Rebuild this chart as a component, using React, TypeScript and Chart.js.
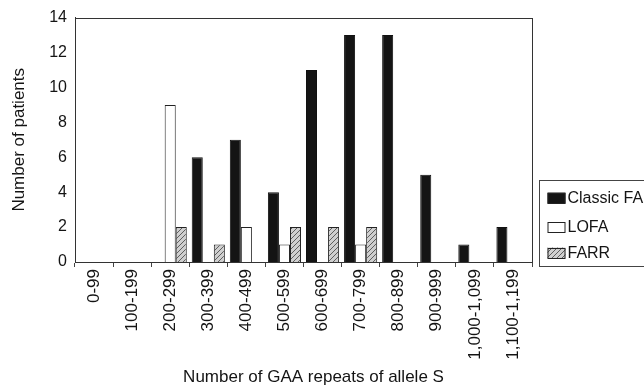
import React, { useEffect, useRef } from "react";
import { Chart, registerables } from "chart.js";

Chart.register(...registerables);

const categories = [
  "0-99", "100-199", "200-299", "300-399", "400-499", "500-599",
  "600-699", "700-799", "800-899", "900-999", "1,000-1,099", "1,100-1,199",
];
const classicFA = [0, 0, 0, 6, 7, 4, 11, 13, 13, 5, 1, 2];
const lofa = [0, 0, 9, 0, 2, 1, 0, 1, 0, 0, 0, 0];
const farr = [0, 0, 2, 1, 0, 2, 2, 2, 0, 0, 0, 0];
const seriesLabels = ["Classic FA", "LOFA", "FARR"];
const yTicks = [0, 2, 4, 6, 8, 10, 12, 14];
const xTitle = "Number of GAA repeats of allele S";
const yTitle = "Number of patients";

const FONT = "'Liberation Sans', Arial, Helvetica, sans-serif";
const TEXT = "#141414";

function makeHatch(): CanvasPattern | string {
  const c = document.createElement("canvas");
  c.width = 5;
  c.height = 5;
  const g = c.getContext("2d");
  if (!g) return "#aaa";
  g.fillStyle = "#cfcfcf";
  g.fillRect(0, 0, 5, 5);
  g.strokeStyle = "#5e5e5e";
  g.lineWidth = 1;
  g.beginPath();
  g.moveTo(-1, 6);
  g.lineTo(6, -1);
  g.moveTo(-1, 1);
  g.lineTo(1, -1);
  g.moveTo(4, 6);
  g.lineTo(6, 4);
  g.stroke();
  const p = g.createPattern(c, "repeat");
  return p || "#aaa";
}

export default function App() {
  const ref = useRef<HTMLCanvasElement | null>(null);

  useEffect(() => {
    if (!ref.current) return;
    const hatch = makeHatch();
    const fills: any[] = ["#141414", "#ffffff", hatch];

    const framePlugin = {
      id: "frameAndLegend",
      afterDraw(chart: any) {
        const { ctx, chartArea } = chart;
        ctx.save();
        ctx.strokeStyle = "#333";
        ctx.lineWidth = 1;
        ctx.strokeRect(
          Math.round(chartArea.left) + 0.5,
          Math.round(chartArea.top) + 0.5,
          Math.round(chartArea.right - chartArea.left),
          Math.round(chartArea.bottom - chartArea.top)
        );
        // x-axis title
        ctx.font = `17px ${FONT}`;
        ctx.fillStyle = TEXT;
        ctx.textAlign = "center";
        ctx.textBaseline = "middle";
        ctx.fillText(xTitle, (chartArea.left + chartArea.right) / 2 + 10, 377);
        // legend box
        const bx = Math.round(chartArea.right) + 7.5;
        const by = 180.5;
        ctx.strokeStyle = "#444";
        ctx.strokeRect(bx, by, 140, 86);
        ctx.font = `16px ${FONT}`;
        ctx.textBaseline = "middle";
        ctx.textAlign = "left";
        const ys = [198, 227, 253];
        chart.data.datasets.forEach((ds: any, i: number) => {
          const sx = bx + 8;
          const sy = ys[i] - 5.5;
          ctx.fillStyle = fills[i];
          ctx.fillRect(sx, sy, 18, 11);
          ctx.strokeStyle = "#222";
          ctx.strokeRect(sx + 0.5, Math.round(sy) + 0.5, 17, 10);
          ctx.fillStyle = TEXT;
          ctx.fillText(ds.label, sx + 20, ys[i] + 1);
        });
        ctx.restore();
      },
    };

    const chart = new Chart(ref.current, {
      type: "bar",
      data: {
        labels: categories,
        datasets: [
          { label: seriesLabels[0], data: classicFA, backgroundColor: fills[0], borderColor: "#111", borderWidth: 1 },
          { label: seriesLabels[1], data: lofa, backgroundColor: fills[1], borderColor: "#222", borderWidth: 1 },
          { label: seriesLabels[2], data: farr, backgroundColor: fills[2], borderColor: "#222", borderWidth: 1 },
        ],
      },
      options: {
        animation: false,
        responsive: true,
        maintainAspectRatio: false,
        layout: { padding: { top: 16, right: 112, left: 0, bottom: 0 } },
        datasets: { bar: { categoryPercentage: 0.87, barPercentage: 1, borderSkipped: "start" } },
        plugins: { legend: { display: false }, tooltip: { enabled: false } },
        scales: {
          x: {
            afterFit: (s: any) => { s.height = 128; },
            grid: { display: true, drawOnChartArea: false, drawTicks: true, tickLength: 5, color: "#444" },
            border: { display: true, color: "#333" },
            ticks: {
              color: TEXT,
              font: { family: FONT, size: 17 },
              minRotation: 90,
              maxRotation: 90,
              autoSkip: false,
              padding: 2,
            },
            title: { display: false, text: xTitle },
          },
          y: {
            min: 0,
            max: 14,
            afterFit: (s: any) => { s.width = 75; },
            afterBuildTicks: (s: any) => { s.ticks = yTicks.map((v) => ({ value: v })); },
            grid: { display: false, drawTicks: false },
            border: { display: true, color: "#333" },
            ticks: {
              color: TEXT,
              font: { family: FONT, size: 16 },
              padding: 8,
            },
            title: {
              display: true,
              text: yTitle,
              color: TEXT,
              font: { family: FONT, size: 17 },
              padding: { top: 9, bottom: 0 },
            },
          },
        },
      },
      plugins: [framePlugin],
    } as any);
    return () => chart.destroy();
  }, []);

  return (
    <div style={{ position: "fixed", left: 0, top: 0, width: 644, height: 390, background: "#fff" }}>
      <canvas ref={ref} />
    </div>
  );
}
